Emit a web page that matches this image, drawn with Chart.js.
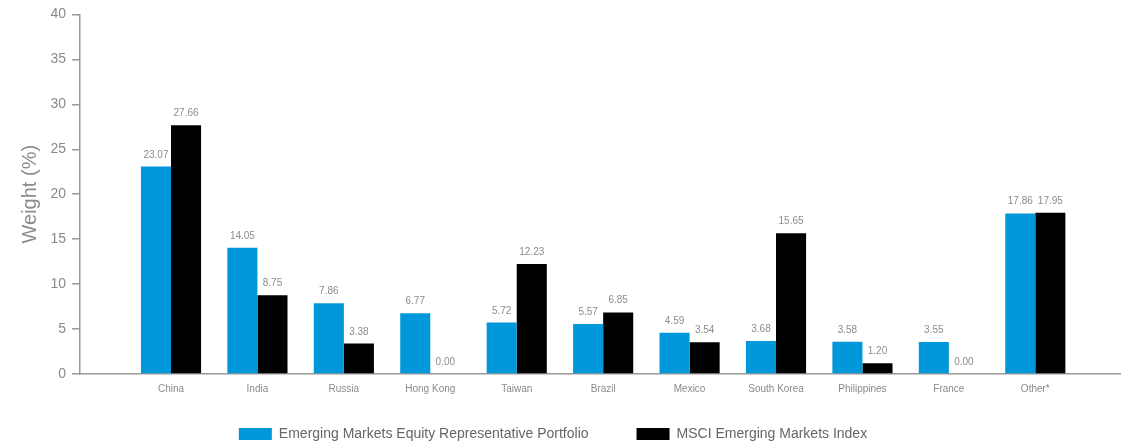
<!DOCTYPE html>
<html>
<head>
<meta charset="utf-8">
<script src="https://cdn.jsdelivr.net/npm/chart.js@4/dist/chart.umd.min.js"></script>
<style>
  html, body { margin: 0; padding: 0; background: #fff; }
  #wrap { width: 1141px; height: 445px; position: relative; }
</style>
</head>
<body>
<div id="wrap"><canvas id="chart"></canvas></div>
<script>
// chart data
const categories = ['China', 'India', 'Russia', 'Hong Kong', 'Taiwan', 'Brazil', 'Mexico', 'South Korea', 'Philippines', 'France', 'Other*'];
const portfolioWeights = [23.07, 14.05, 7.86, 6.77, 5.72, 5.57, 4.59, 3.68, 3.58, 3.55, 17.86];
const msciWeights = [27.66, 8.75, 3.38, 0.00, 12.23, 6.85, 3.54, 15.65, 1.20, 0.00, 17.95];
const yTicks = [0, 5, 10, 15, 20, 25, 30, 35, 40];

const FONT = '"Liberation Sans", Arial, Helvetica, sans-serif';
const GREY = '#8a8a8a';

// value labels above each bar
const valueLabels = {
  id: 'valueLabels',
  afterDatasetsDraw(chart) {
    const ctx = chart.ctx;
    ctx.save();
    ctx.font = '10px ' + FONT;
    ctx.fillStyle = '#8c8c8c';
    ctx.textAlign = 'center';
    ctx.textBaseline = 'alphabetic';
    chart.data.datasets.forEach((ds, di) => {
      const meta = chart.getDatasetMeta(di);
      meta.data.forEach((bar, i) => {
        ctx.fillText(ds.data[i].y.toFixed(2), bar.x, bar.y - 9);
      });
    });
    ctx.restore();
  }
};

// legend box sits a bit higher and left than chart.js would put it
const legendShift = {
  id: 'legendShift',
  afterLayout(chart) {
    const lg = chart.legend;
    lg.top = 379;
    lg.left -= 7;
    lg.right -= 7;
  }
};

const toPoints = arr => arr.map((v, i) => ({ x: i, y: v }));

new Chart(document.getElementById('chart'), {
  type: 'bar',
  data: {
    datasets: [
      {
        label: 'Emerging Markets Equity Representative Portfolio',
        data: toPoints(portfolioWeights),
        backgroundColor: '#0098da',
        borderWidth: 0
      },
      {
        label: 'MSCI Emerging Markets Index',
        data: toPoints(msciWeights),
        backgroundColor: '#000000',
        borderWidth: 0
      }
    ]
  },
  options: {
    responsive: true,
    maintainAspectRatio: false,
    animation: false,
    categoryPercentage: 0.71,
    barPercentage: 1.0,
    layout: { padding: { top: 8, right: 21, left: 0, bottom: 0 } },
    plugins: {
      legend: {
        position: 'bottom',
        maxHeight: 41,
        labels: {
          boxWidth: 33,
          boxHeight: 12,
          padding: 48,
          color: '#666',
          font: { family: FONT, size: 14 }
        }
      },
      tooltip: { enabled: false },
      title: { display: false }
    },
    scales: {
      x: {
        type: 'linear',
        offset: false,
        min: -1.053,
        max: 10.98,
        grid: { display: true, drawOnChartArea: false, tickLength: 0, offset: false },
        border: { display: true, color: '#999', width: 1.5 },
        ticks: {
          stepSize: 1,
          autoSkip: false,
          maxRotation: 0,
          padding: 9,
          color: GREY,
          font: { family: FONT, size: 10 },
          callback: v => (Number.isInteger(v) && categories[v]) ? categories[v] : ''
        }
      },
      y: {
        min: 0,
        max: 40,
        afterBuildTicks: s => { s.ticks = yTicks.map(v => ({ value: v })); },
        afterFit: s => { s.width = 80; },
        grid: { display: true, drawOnChartArea: false, tickLength: 8, color: '#999', lineWidth: 1.5 },
        border: { display: true, color: '#999', width: 1.5 },
        ticks: {
          padding: 6,
          color: GREY,
          font: { family: FONT, size: 14 }
        },
        title: {
          display: true,
          text: 'Weight (%)',
          color: '#8c8c8c',
          font: { family: FONT, size: 20 },
          padding: { top: 18, bottom: 0 }
        }
      }
    }
  },
  plugins: [valueLabels, legendShift]
});
</script>
</body>
</html>
